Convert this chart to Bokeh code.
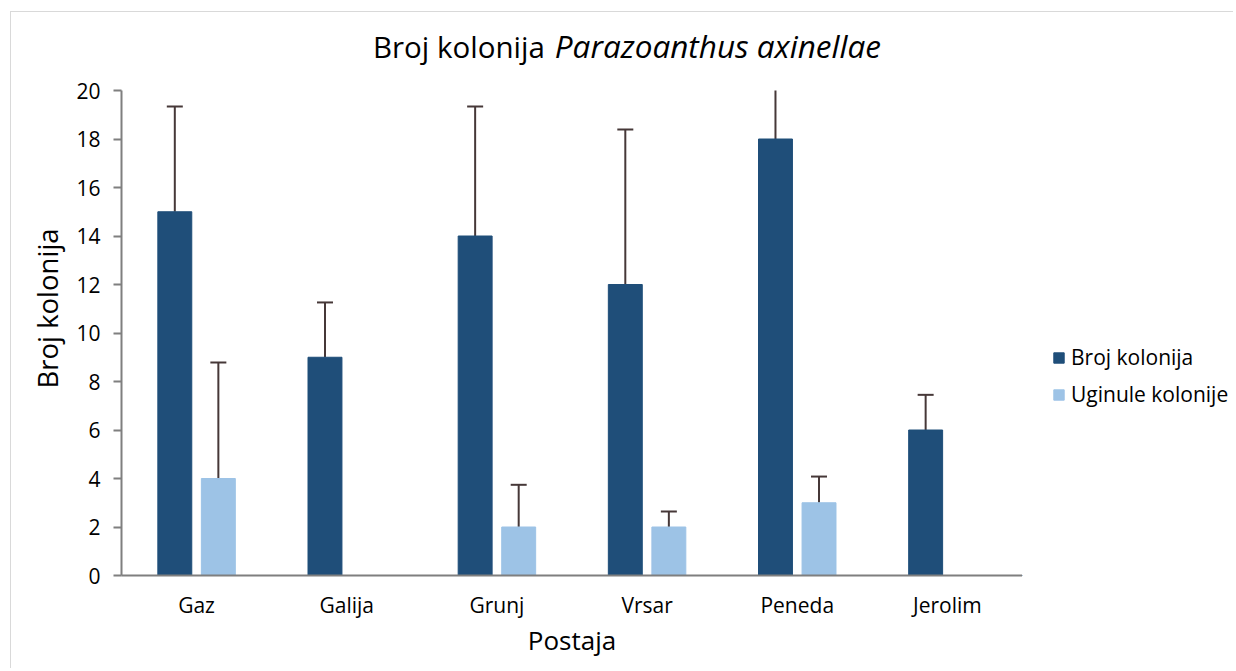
from bokeh.plotting import figure
from bokeh.models import (ColumnDataSource, FactorRange, Range1d, Whisker, TeeHead,
                          Title, Legend, LegendItem, FixedTicker, Div)
from bokeh.layouts import column, row
from bokeh.transform import dodge
from bokeh.embed import file_html
from bokeh.resources import INLINE

# ---- data ----
categories = ["Gaz", "Galija", "Grunj", "Vrsar", "Peneda", "Jerolim"]
broj_kolonija = [15, 9, 14, 12, 18, 6]
broj_err = [4.34, 2.26, 5.34, 6.39, 2.08, 1.45]
uginule_kolonije = [4, None, 2, 2, 3, None]
uginule_err = [4.78, None, 1.74, 0.64, 1.08, None]
y_ticks = [0, 2, 4, 6, 8, 10, 12, 14, 16, 18, 20]

series_names = ["Broj kolonija", "Uginule kolonije"]
title_plain = "Broj kolonija"
title_italic = "Parazoanthus axinellae"
x_title = "Postaja"
y_title = "Broj kolonija"

DARK = "#1F4E79"
LIGHT = "#9DC3E6"
ERR = "#463838"
AXIS = "#7f7f7f"
FONT = "Open Sans"

src_b = ColumnDataSource(dict(
    cat=categories, val=broj_kolonija,
    up=[v + e for v, e in zip(broj_kolonija, broj_err)]))
u_idx = [i for i, v in enumerate(uginule_kolonije) if v is not None]
src_u = ColumnDataSource(dict(
    cat=[categories[i] for i in u_idx],
    val=[uginule_kolonije[i] for i in u_idx],
    up=[uginule_kolonije[i] + uginule_err[i] for i in u_idx]))

TITLE_H = 58
H = 598
W_MAIN = 1011
W_LEG = 211

title_div = Div(
    text=(f'<div style="font-family:\'{FONT}\';line-height:1;color:#000;'
          f'white-space:nowrap;padding-left:362px;padding-top:18px">'
          f'<span style="font-size:29.5px">{title_plain}</span>'
          f'<span style="font-size:31.5px;font-style:italic;margin-left:10px">'
          f'{title_italic}</span></div>'),
    width=W_MAIN + W_LEG, height=TITLE_H, margin=0)

p = figure(x_range=FactorRange(factors=categories, range_padding=0),
           y_range=Range1d(0, 20), width=W_MAIN, height=H,
           output_backend="svg", toolbar_location=None,
           min_border_left=110, min_border_right=0,
           min_border_top=20, min_border_bottom=93)

OFF = 0.145
BW = 0.226
rb = p.vbar(x=dodge("cat", -OFF, range=p.x_range), top="val", width=BW,
            source=src_b, fill_color=DARK, line_color=DARK)
ru = p.vbar(x=dodge("cat", OFF, range=p.x_range), top="val", width=BW,
            source=src_u, fill_color=LIGHT, line_color=LIGHT)

for src, off in ((src_b, -OFF), (src_u, OFF)):
    w = Whisker(base=dodge("cat", off, range=p.x_range), lower="val", upper="up",
                source=src, line_color=ERR, line_width=2,
                upper_head=TeeHead(size=16, line_color=ERR, line_width=2),
                lower_head=None)
    p.add_layout(w)

p.xgrid.visible = False
p.ygrid.visible = False
p.outline_line_color = None

p.yaxis.ticker = FixedTicker(ticks=y_ticks)
p.yaxis.minor_tick_line_color = None
p.yaxis.major_tick_in = 0
p.yaxis.major_tick_out = 8
p.yaxis.major_tick_line_color = AXIS
p.yaxis.major_tick_line_width = 2
p.yaxis.major_label_standoff = 13
p.xaxis.major_tick_line_color = None
p.xaxis.major_tick_out = 0
p.xaxis.major_tick_in = 0
p.xaxis.major_label_standoff = 15
for ax in (p.xaxis, p.yaxis):
    ax.axis_line_color = AXIS
    ax.axis_line_width = 2
    ax.major_label_text_font = FONT
    ax.major_label_text_font_size = "21px"
    ax.major_label_text_color = "#000000"

p.xaxis.axis_label = x_title
p.xaxis.axis_label_text_font = FONT
p.xaxis.axis_label_text_font_size = "26px"
p.xaxis.axis_label_text_font_style = "normal"
p.xaxis.axis_label_text_color = "#000000"
p.xaxis.axis_label_standoff = 0

ytitle = Title(text=y_title, align="left", offset=187, standoff=15,
               text_font=FONT, text_font_size="27.5px", text_font_style="normal",
               text_color="#000000")
p.add_layout(ytitle, "left")

# legend lives in a small companion figure to the right of the plot area
leg_fig = figure(width=W_LEG, height=H, output_backend="svg", toolbar_location=None,
                 x_range=Range1d(0, 1), y_range=Range1d(0, 1),
                 min_border_left=0, min_border_right=0,
                 min_border_top=0, min_border_bottom=0)
leg_fig.axis.visible = False
leg_fig.grid.visible = False
leg_fig.outline_line_color = None
lb = leg_fig.vbar(x=[-10], top=[-10], width=0.1, fill_color=DARK, line_color=DARK)
lu = leg_fig.vbar(x=[-10], top=[-10], width=0.1, fill_color=LIGHT, line_color=LIGHT)
legend = Legend(items=[LegendItem(label=series_names[0], renderers=[lb]),
                       LegendItem(label=series_names[1], renderers=[lu])],
                location=(30, 167), padding=0, margin=0, spacing=9,
                glyph_width=13, glyph_height=13, label_standoff=6,
                label_text_font=FONT, label_text_font_size="21px",
                label_text_color="#000000",
                border_line_color=None, background_fill_alpha=0)
leg_fig.add_layout(legend)

layout = column(title_div, row(p, leg_fig),
                styles={"border-top": "1px solid #d9d9d9",
                        "border-left": "1px solid #d9d9d9",
                        "margin-left": "10px", "margin-top": "11px"})

open("out.html", "w").write(file_html(layout, INLINE))
